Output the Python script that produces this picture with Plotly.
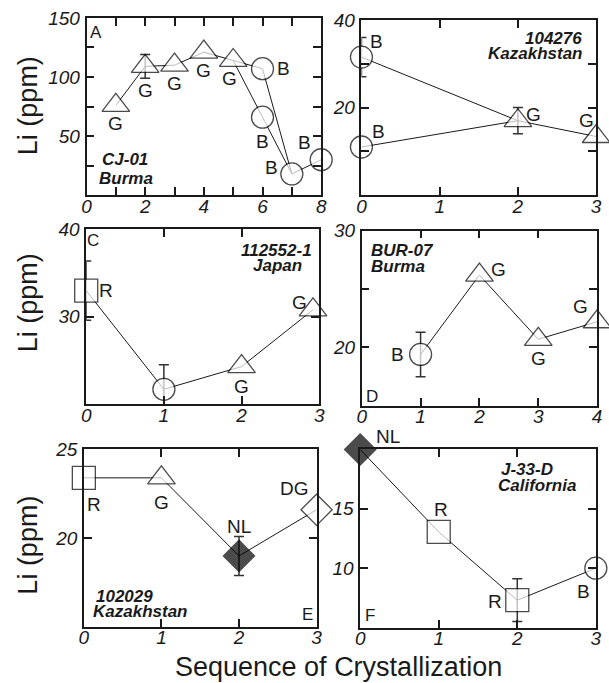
import plotly.graph_objects as go

W, H = 609, 683
FONT = "Liberation Sans, Arial, Helvetica, sans-serif"
INK = "#1a1a1a"

# ---------------- data ----------------
# Panel A  (CJ-01 Burma)
a_x = [1, 2, 3, 4, 5, 6, 6, 7, 8]
a_y = [76, 109, 110, 121, 114, 107, 66, 18, 30]
a_min = ["G", "G", "G", "G", "G", "B", "B", "B", "B"]
a_err = [0, 10, 0, 0, 0, 0, 0, 0, 0]
a_paths = [[0, 1, 2, 3, 4, 5, 7, 8], [4, 6, 7]]

# Panel B  (104276 Kazakhstan)
b_x = [0, 0, 2, 3]
b_y = [31.5, 11, 17, 13.4]
b_min = ["B", "B", "G", "G"]
b_err = [4.5, 0, 3, 0]
b_paths = [[0, 2, 3], [1, 2]]

# Panel C  (112552-1 Japan)
c_x = [0, 1, 2, 2.92]
c_y = [33, 21.7, 24.3, 30.8]
c_min = ["R", "B", "G", "G"]
c_err = [3.4, 2.8, 0, 0]
c_paths = [[0, 1, 2, 3]]

# Panel D  (BUR-07 Burma)
d_x = [1, 2, 3, 4]
d_y = [19.4, 26.2, 20.7, 22.2]
d_min = ["B", "G", "G", "G"]
d_err = [1.9, 0, 0, 0]
d_paths = [[0, 1, 2, 3]]

# Panel E  (102029 Kazakhstan)
e_x = [0, 1, 2, 3]
e_y = [23.4, 23.4, 19.0, 21.6]
e_min = ["R", "G", "NL", "DG"]
e_err = [0, 0, 1.1, 0]
e_paths = [[0, 1, 2, 3]]

# Panel F  (J-33-D California)
f_x = [0, 1, 2, 3]
f_y = [20, 13.05, 7.3, 10]
f_min = ["NL", "R", "R", "B"]
f_err = [0, 0, 1.8, 0]
f_paths = [[0, 1, 2, 3]]

# ---------------- styling / layout ----------------
SYMBOL = {"G": ("triangle-up", "white", 24), "B": ("circle", "white", 22),
          "R": ("square", "white", 23), "NL": ("diamond", "black", 24),
          "DG": ("diamond", "white", 24)}

# label offsets (dx, dy) in px, dy positive = downward
a_off = [(0, 18), (0, 24), (0, 18), (0, 18), (-4, 18), (21, 0), (0, 24), (-20, -6), (-17, -17)]
b_off = [(15, -16), (17, -16), (16, -6), (-10, -16)]
c_off = [(20, 0), None, (0, 20), (-14, -7)]
d_off = [(-23, 0), (19, -6), (0, 19), (-17, -15)]
e_off = [(10, 27), (0, 25), (0, -29), (-22, -21)]
f_off = [(28, -13), (2, -22), (-22, 1), (-12, 23)]

panels = [
    dict(x=a_x, y=a_y, m=a_min, err=a_err, paths=a_paths, off=a_off,
         xd=(83, 322), yd=(8, 188), xr=[0, 8], yr=[0, 150],
         xt=list(range(0, 9)), xl=["0", "", "2", "", "4", "", "6", "", "8"],
         yt=[25, 50, 75, 100, 125, 150], yl=["", "50", "", "100", "", "150"]),
    dict(x=b_x, y=b_y, m=b_min, err=b_err, paths=b_paths, off=b_off,
         xd=(363, 602), yd=(10, 188), xr=[0, 3], yr=[0, 40],
         xt=[0, 1, 2, 3], xl=["0", "1", "2", "3"],
         yt=[10, 20, 30, 40], yl=["", "20", "", "40"]),
    dict(x=c_x, y=c_y, m=c_min, err=c_err, paths=c_paths, off=c_off,
         xd=(82.7, 320), yd=(222.7, 400), xr=[0, 3], yr=[20, 40],
         xt=[0, 1, 2, 3], xl=["0", "1", "2", "3"],
         yt=[30, 40], yl=["30", "40"]),
    dict(x=d_x, y=d_y, m=d_min, err=d_err, paths=d_paths, off=d_off,
         xd=(363.3, 603), yd=(224, 401.7), xr=[0, 4], yr=[15, 30],
         xt=[0, 1, 2, 3, 4], xl=["0", "1", "2", "3", "4"],
         yt=[20, 25, 30], yl=["20", "", "30"]),
    dict(x=e_x, y=e_y, m=e_min, err=e_err, paths=e_paths, off=e_off,
         xd=(80.3, 317.3), yd=(446, 626), xr=[0, 3], yr=[15, 25],
         xt=[0, 1, 2, 3], xl=["0", "1", "2", "3"],
         yt=[20, 25], yl=["20", "25"]),
    dict(x=f_x, y=f_y, m=f_min, err=f_err, paths=f_paths, off=f_off,
         xd=(361.7, 601.7), yd=(446, 626.7), xr=[0, 3], yr=[5, 20],
         xt=[0, 1, 2, 3], xl=["0", "1", "2", "3"],
         yt=[10, 15, 20], yl=["10", "15", ""]),
]


def px(xp):
    return xp / W


def py(yp):
    return 1 - yp / H


fig = go.Figure()
annotations = []
layout = {}

for i, p in enumerate(panels):
    n = "" if i == 0 else str(i + 1)
    xa, ya = "x" + n, "y" + n
    # error bars (clipped to the plot area)
    idx = [k for k, e in enumerate(p["err"]) if e > 0]
    if idx:
        fig.add_trace(go.Scatter(
            x=[p["x"][k] for k in idx], y=[p["y"][k] for k in idx],
            mode="markers", marker=dict(size=1, color="rgba(0,0,0,0)"),
            error_y=dict(type="data", array=[p["err"][k] for k in idx],
                         color="#333", thickness=1.5, width=5),
            xaxis=xa, yaxis=ya, hoverinfo="skip", showlegend=False))
    # connecting lines
    for path in p["paths"]:
        fig.add_trace(go.Scatter(
            x=[p["x"][k] for k in path], y=[p["y"][k] for k in path],
            mode="lines", line=dict(color=INK, width=1),
            xaxis=xa, yaxis=ya, hoverinfo="skip", showlegend=False))
    # markers
    fig.add_trace(go.Scatter(
        x=p["x"], y=p["y"], mode="markers",
        marker=dict(symbol=[SYMBOL[m][0] for m in p["m"]],
                    color=[SYMBOL[m][1] for m in p["m"]],
                    size=[SYMBOL[m][2] for m in p["m"]],
                    line=dict(color="black", width=1.3)),
        cliponaxis=False, xaxis=xa, yaxis=ya, showlegend=False))
    # mineral labels
    for k, m in enumerate(p["m"]):
        o = p["off"][k]
        if o is None:
            continue
        annotations.append(dict(
            x=p["x"][k], y=p["y"][k], xref=xa, yref=ya, text=m,
            showarrow=False, xshift=o[0], yshift=-o[1],
            font=dict(family=FONT, size=19, color=INK)))
    common = dict(showline=True, linecolor=INK, linewidth=1.5, mirror="ticks",
                  ticks="inside", ticklen=8, tickwidth=1.5, tickcolor=INK,
                  showgrid=False, zeroline=False,
                  tickfont=dict(family=FONT, size=19, color=INK, style="italic"))
    layout["xaxis" + n] = dict(domain=[px(p["xd"][0]), px(p["xd"][1])],
                               range=p["xr"], anchor=ya, tickmode="array",
                               tickvals=p["xt"], ticktext=p["xl"],
                               ticklabelstandoff=-7, **common)
    layout["yaxis" + n] = dict(domain=[py(p["yd"][1]), py(p["yd"][0])],
                               range=p["yr"], anchor=xa, tickmode="array",
                               tickvals=p["yt"], ticktext=p["yl"],
                               ticklabelstandoff=1, **common)


def note(text, x, y, size, xanchor="center", angle=0, bold_italic=False):
    f = dict(family=FONT, size=size, color=INK)
    if bold_italic:
        f.update(weight="bold", style="italic")
    annotations.append(dict(text=text, x=px(x), y=py(y), xref="paper", yref="paper",
                            xanchor=xanchor, yanchor="middle", showarrow=False,
                            textangle=angle, font=f))


# panel letters
for t, x, y in [("A", 93, 23), ("C", 90, 234), ("D", 374, 392), ("E", 308, 613), ("F", 372, 615)]:
    note(t, x, y, 17)

# sample names
note("CJ-01", 122, 152, 17, bold_italic=True)
note("Burma", 123, 171, 17, bold_italic=True)
note("104276", 590, 29, 17, "right", bold_italic=True)
note("Kazakhstan", 590, 44, 17, "right", bold_italic=True)
note("112552-1", 277, 244, 17, bold_italic=True)
note("Japan", 278, 259, 17, bold_italic=True)
note("BUR-07", 371, 244, 17, "left", bold_italic=True)
note("Burma", 371, 260, 17, "left", bold_italic=True)
note("102029", 91, 595, 17, "left", bold_italic=True)
note("Kazakhstan", 88, 610, 17, "left", bold_italic=True)
note("J-33-D", 503, 466, 17, "left", bold_italic=True)
note("California", 500, 483, 17, "left", bold_italic=True)

# axis titles
for y in (97, 297, 543):
    note("Li (ppm)", 23, y, 27, angle=-90)
note("Sequence of Crystallization", 340, 667, 27)

fig.update_layout(width=W, height=H, margin=dict(l=0, r=0, t=0, b=0),
                  paper_bgcolor="white", plot_bgcolor="white",
                  annotations=annotations, showlegend=False, **layout)

fig.write_html("out.html", config={"displayModeBar": False},
               post_script="document.body.style.margin='0px';")
